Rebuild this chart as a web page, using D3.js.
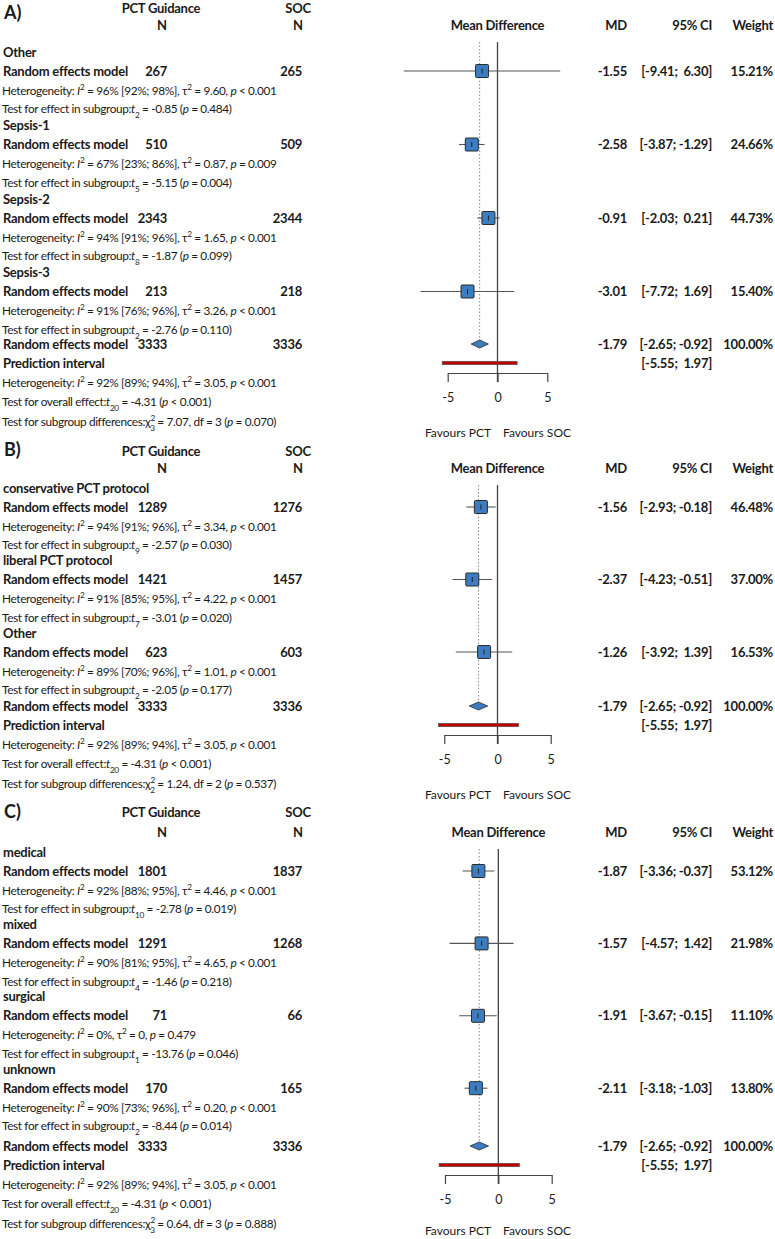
<!DOCTYPE html>
<html><head><meta charset="utf-8">
<script src="https://cdn.jsdelivr.net/npm/d3@7"></script>
<style>
html,body{margin:0;padding:0;background:#fff;}
svg text{font-family:Lato,"Noto Sans",sans-serif;fill:#1a1a1a;white-space:pre;}
.b{font-weight:bold;font-size:13px;letter-spacing:-0.25px;}
.r{font-size:11.8px;letter-spacing:-0.35px;}
.f{font-size:12px;}
.big{font-weight:bold;font-size:18px;}
</style></head>
<body>
<svg id="chart" width="775" height="1239"></svg>
<script>
// ---------------- DATA ----------------
const panelLetters = ["A)", "B)", "C)"];

// Panel A – sepsis definition
const groupsA  = ["Other", "Sepsis-1", "Sepsis-2", "Sepsis-3"];
const nPctA    = [267, 510, 2343, 213];
const nSocA    = [265, 509, 2344, 218];
const mdA      = [-1.55, -2.58, -0.91, -3.01];
const loA      = [-9.41, -3.87, -2.03, -7.72];
const hiA      = [6.30, -1.29, 0.21, 1.69];
const weightA  = ["15.21%", "24.66%", "44.73%", "15.40%"];
const i2A      = ["96% [92%; 98%]", "67% [23%; 86%]", "94% [91%; 96%]", "91% [76%; 96%]"];
const tau2A    = ["9.60", "0.87", "1.65", "3.26"];
const hetPA    = ["< 0.001", "= 0.009", "< 0.001", "< 0.001"];
const tDfA     = ["2", "5", "8", "2"];
const tValA    = ["-0.85", "-5.15", "-1.87", "-2.76"];
const tPA      = ["= 0.484", "= 0.004", "= 0.099", "= 0.110"];
const chiA     = {df: "3", val: "7.07", p: "= 0.070"};

// Panel B – PCT protocol
const groupsB  = ["conservative PCT protocol", "liberal PCT protocol", "Other"];
const nPctB    = [1289, 1421, 623];
const nSocB    = [1276, 1457, 603];
const mdB      = [-1.56, -2.37, -1.26];
const loB      = [-2.93, -4.23, -3.92];
const hiB      = [-0.18, -0.51, 1.39];
const weightB  = ["46.48%", "37.00%", "16.53%"];
const i2B      = ["94% [91%; 96%]", "91% [85%; 95%]", "89% [70%; 96%]"];
const tau2B    = ["3.34", "4.22", "1.01"];
const hetPB    = ["< 0.001", "< 0.001", "< 0.001"];
const tDfB     = ["9", "7", "2"];
const tValB    = ["-2.57", "-3.01", "-2.05"];
const tPB      = ["= 0.030", "= 0.020", "= 0.177"];
const chiB     = {df: "2", val: "1.24", p: "= 0.537"};

// Panel C – patient population
const groupsC  = ["medical", "mixed", "surgical", "unknown"];
const nPctC    = [1801, 1291, 71, 170];
const nSocC    = [1837, 1268, 66, 165];
const mdC      = [-1.87, -1.57, -1.91, -2.11];
const loC      = [-3.36, -4.57, -3.67, -3.18];
const hiC      = [-0.37, 1.42, -0.15, -1.03];
const weightC  = ["53.12%", "21.98%", "11.10%", "13.80%"];
const i2C      = ["92% [88%; 95%]", "90% [81%; 95%]", "0%", "90% [73%; 96%]"];
const tau2C    = ["4.46", "4.65", "0", "0.20"];
const hetPC    = ["< 0.001", "< 0.001", "= 0.479", "< 0.001"];
const tDfC     = ["10", "4", "1", "2"];
const tValC    = ["-2.78", "-1.46", "-13.76", "-8.44"];
const tPC      = ["= 0.019", "= 0.218", "= 0.046", "= 0.014"];
const chiC     = {df: "3", val: "0.64", p: "= 0.888"};

// Overall (identical in each panel)
const overallN   = [3333, 3336];
const overallMD  = -1.79;
const overallCI  = [-2.65, -0.92];
const predInt    = [-5.55, 1.97];
const overallI2  = "92% [89%; 94%]";
const overallTau2 = "3.05";
const overallHetP = "< 0.001";
const overallT   = {df: "20", val: "-4.31", p: "< 0.001"};
const axisTicks  = [-5, 0, 5];
const favourLabels = ["Favours PCT", "Favours SOC"];
const colHeaders = ["PCT Guidance", "SOC", "N", "Mean Difference", "MD", "95% CI", "Weight"];

// ---------------- LAYOUT ----------------
const panels = [
  {letter: panelLetters[0], groups: groupsA, nPct: nPctA, nSoc: nSocA, md: mdA, lo: loA, hi: hiA, w: weightA,
   i2: i2A, tau2: tau2A, hetP: hetPA, tDf: tDfA, tVal: tValA, tP: tPA, chi: chiA,
   letterY: 13, headerY: 8, nY: 25, labelY0: 52, step: 73.5, overallY: 344, axisY: 373, range: [447.7, 547.3]},
  {letter: panelLetters[1], groups: groupsB, nPct: nPctB, nSoc: nSocB, md: mdB, lo: loB, hi: hiB, w: weightB,
   i2: i2B, tau2: tau2B, hetP: hetPB, tDf: tDfB, tVal: tValB, tP: tPB, chi: chiB,
   letterY: 450, headerY: 451, nY: 468, labelY0: 488, step: 72.5, overallY: 706, axisY: 735, range: [444.3, 550.7]},
  {letter: panelLetters[2], groups: groupsC, nPct: nPctC, nSoc: nSocC, md: mdC, lo: loC, hi: hiC, w: weightC,
   i2: i2C, tau2: tau2C, hetP: hetPC, tDf: tDfC, tVal: tValC, tP: tPC, chi: chiC,
   letterY: 812, headerY: 812, nY: 832, labelY0: 852, step: 72.4, overallY: 1146, axisY: 1175, range: [445, 551.7]}
];

const svg = d3.select("#chart");
const fmt = v => v.toFixed(2);
const ciStr = (lo, hi) => "[" + fmt(lo) + "; " + (hi >= 0 ? " " : "") + fmt(hi) + "]";

const X_PCT = 167, X_SOC = 302, X_MD = 627, X_CI = 712, X_W = 773;
const SQ = 13;
const BLUE = "#3b7dc0", EDGE = "#2a2a2a";

function txt(g, x, y, s, cls, anchor) {
  return g.append("text").attr("x", x).attr("y", y).attr("dy", "0.35em")
    .attr("class", cls).attr("text-anchor", anchor || "start").text(s);
}
function rich(g, x, y, segs) {
  const t = g.append("text").attr("x", x).attr("y", y).attr("dy", "0.35em").attr("class", "r");
  segs.forEach(s => {
    const sp = t.append("tspan").text(s.t);
    if (s.i) sp.attr("font-style", "italic");
    if (s.sup) sp.attr("baseline-shift", "super").attr("font-size", "70%");
    if (s.sub) sp.attr("baseline-shift", "sub").attr("font-size", "70%");
    if (s.dx) sp.attr("dx", s.dx);
  });
  return t;
}
const hetSegs = (i2, tau2, p) => [
  {t: "Heterogeneity: "}, {t: "I", i: 1}, {t: "2", sup: 1}, {t: " = " + i2 + ", τ"}, {t: "2", sup: 1},
  {t: " = " + tau2 + ", "}, {t: "p", i: 1}, {t: " " + p}];
const testSegs = (label, df, val, p) => [
  {t: label}, {t: "t", i: 1}, {t: df, sub: 1}, {t: " = " + val + " ("}, {t: "p", i: 1}, {t: " " + p + ")"}];

panels.forEach(P => {
  const g = svg.append("g");
  const x = d3.scaleLinear().domain([-5, 5]).range(P.range);

  // headers
  txt(g, 4, P.letterY, P.letter, "big");
  txt(g, 161, P.headerY, colHeaders[0], "b", "middle");
  txt(g, 298, P.headerY, colHeaders[1], "b", "middle");
  txt(g, 162, P.nY, colHeaders[2], "b", "middle");
  txt(g, 298, P.nY, colHeaders[2], "b", "middle");
  txt(g, x(0), P.nY, colHeaders[3], "b", "middle");
  txt(g, X_MD, P.nY, colHeaders[4], "b", "end");
  txt(g, X_CI, P.nY, colHeaders[5], "b", "end");
  txt(g, X_W, P.nY, colHeaders[6], "b", "end");

  const top = P.nY + 17;
  // reference lines
  g.append("line").attr("x1", x(overallMD)).attr("x2", x(overallMD))
    .attr("y1", top).attr("y2", P.overallY - 4)
    .attr("stroke", "#8a8a8a").attr("stroke-width", 1).attr("stroke-dasharray", "1.5,2");
  g.append("line").attr("x1", x(0)).attr("x2", x(0))
    .attr("y1", top).attr("y2", P.axisY + 9)
    .attr("stroke", "#444").attr("stroke-width", 1.3);

  // subgroups
  P.groups.forEach((name, i) => {
    const L = P.labelY0 + i * P.step;
    const yR = L + 19;
    txt(g, 3, L, name, "b");
    txt(g, 3, yR, "Random effects model", "b");
    txt(g, X_PCT, yR, String(P.nPct[i]), "b", "end");
    txt(g, X_SOC, yR, String(P.nSoc[i]), "b", "end");
    rich(g, 2, L + 38.5, hetSegs(P.i2[i], P.tau2[i], P.hetP[i]));
    rich(g, 2, L + 57, testSegs("Test for effect in subgroup:", P.tDf[i], P.tVal[i], P.tP[i]));

    g.append("line").attr("x1", x(P.lo[i])).attr("x2", x(P.hi[i])).attr("y1", yR).attr("y2", yR)
      .attr("stroke", "#555").attr("stroke-width", 1.1);
    g.append("rect").attr("x", x(P.md[i]) - SQ / 2).attr("y", yR - SQ / 2)
      .attr("width", SQ).attr("height", SQ).attr("rx", 1)
      .attr("fill", BLUE).attr("stroke", EDGE).attr("stroke-width", 1);
    g.append("line").attr("x1", x(P.md[i])).attr("x2", x(P.md[i])).attr("y1", yR - 2.5).attr("y2", yR + 2.5)
      .attr("stroke", "#222").attr("stroke-width", 1);

    txt(g, X_MD, yR, fmt(P.md[i]), "b", "end");
    txt(g, X_CI, yR, ciStr(P.lo[i], P.hi[i]), "b", "end");
    txt(g, X_W, yR, P.w[i], "b", "end");
  });

  // overall
  const O = P.overallY;
  txt(g, 3, O, "Random effects model", "b");
  txt(g, X_PCT, O, String(overallN[0]), "b", "end");
  txt(g, X_SOC, O, String(overallN[1]), "b", "end");
  txt(g, 3, O + 19, "Prediction interval", "b");
  rich(g, 2, O + 39, hetSegs(overallI2, overallTau2, overallHetP));
  rich(g, 2, O + 58, testSegs("Test for overall effect:", overallT.df, overallT.val, overallT.p));
  rich(g, 2, O + 78, [{t: "Test for subgroup differences:"}, {t: "χ"}, {t: "2", sup: 1}, {t: P.chi.df, sub: 1, dx: -4.6},
    {t: " = " + P.chi.val + ", df = " + P.chi.df + " ("}, {t: "p", i: 1}, {t: " " + P.chi.p + ")"}]);

  g.append("path")
    .attr("d", `M${x(overallCI[0])},${O} L${x(overallMD)},${O - 4} L${x(overallCI[1])},${O} L${x(overallMD)},${O + 4} Z`)
    .attr("fill", BLUE).attr("stroke", EDGE).attr("stroke-width", 0.8);
  txt(g, X_MD, O, fmt(overallMD), "b", "end");
  txt(g, X_CI, O, ciStr(overallCI[0], overallCI[1]), "b", "end");
  txt(g, X_W, O, "100.00%", "b", "end");

  g.append("rect").attr("x", x(predInt[0])).attr("y", O + 19 - 1.7)
    .attr("width", x(predInt[1]) - x(predInt[0])).attr("height", 3.4)
    .attr("fill", "#c00000").attr("stroke", "#555").attr("stroke-width", 0.7);
  txt(g, X_CI, O + 19, ciStr(predInt[0], predInt[1]), "b", "end");

  // axis
  const ax = g.append("g").attr("transform", `translate(0,${P.axisY})`)
    .call(d3.axisBottom(x).tickValues(axisTicks).tickSize(9).tickSizeOuter(0).tickPadding(11)
      .tickFormat(d => String(d)));
  ax.select(".domain").attr("stroke", "#444").attr("stroke-width", 1.2);
  ax.selectAll(".tick line").attr("stroke", "#444").attr("stroke-width", 1.2);
  ax.selectAll(".tick text").attr("font-size", 12.5).attr("font-family", "Lato").attr("fill", "#222");

  const fy = Math.min(P.axisY + 60, 1231);
  txt(g, 458, fy, favourLabels[0], "f", "middle");
  txt(g, 537, fy, favourLabels[1], "f", "middle");
});
</script>
</body></html>
